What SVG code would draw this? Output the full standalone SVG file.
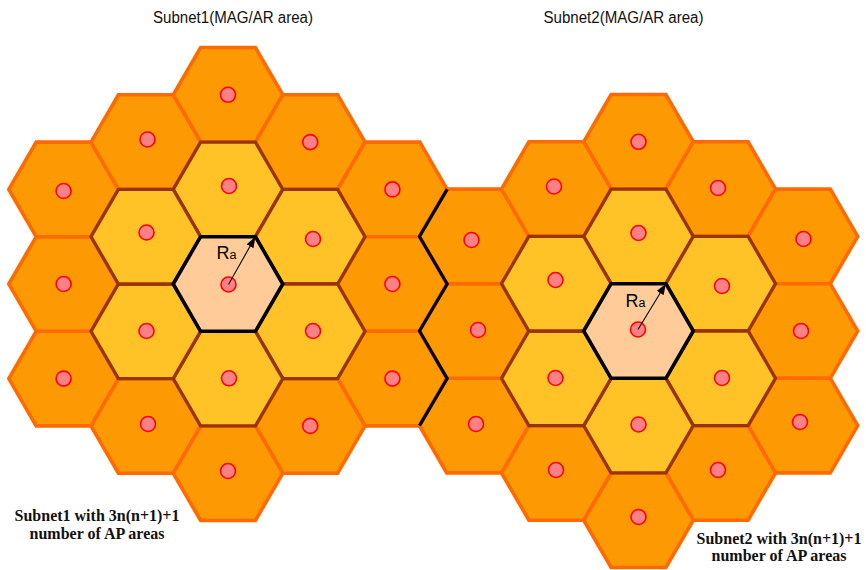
<svg xmlns="http://www.w3.org/2000/svg" xmlns:xlink="http://www.w3.org/1999/xlink" width="866" height="570" viewBox="0 0 866 570">
<style>
.outer{fill:#FD9A03;stroke:#FF6A00;stroke-width:3.6}
.ring1{fill:#FFC328;stroke:#993300;stroke-width:3.3}
.core{fill:#FFCC99;stroke:#000;stroke-width:3.6}
.ap{fill:#FF8085;stroke:#FF0000;stroke-width:1.6}
.title{font-family:"Liberation Sans",Arial,sans-serif;font-size:16px;fill:#111}
.note{font-family:"Liberation Serif","Times New Roman",serif;font-weight:bold;font-size:16px;fill:#111;text-anchor:middle}
.ra{font-family:"Liberation Sans",Arial,sans-serif;font-size:18px;fill:#000}
.radius{stroke:#000;stroke-width:1.1;fill:none}
</style>
<defs>
<path id="hex" d="M-54.8,0 L-27.4,-47.3 L27.4,-47.3 L54.8,0 L27.4,47.3 L-27.4,47.3 Z"/>
<marker id="arr" markerUnits="userSpaceOnUse" markerWidth="11" markerHeight="8" refX="11" refY="4" orient="auto"><path d="M0,0 L11,4 L0,8 Z" fill="#000"/></marker>
</defs>
<rect width="866" height="570" fill="#fff"/>

<!-- Subnet 1 outer ring -->
<g id="s1-o1"><use xlink:href="#hex" x="228" y="94.8" class="outer"/><circle class="ap" cx="228" cy="94.8" r="7.5"/></g>
<g id="s1-o2"><use xlink:href="#hex" x="310.2" y="142.1" class="outer"/><circle class="ap" cx="310.2" cy="142.1" r="7.5"/></g>
<g id="s1-o3"><use xlink:href="#hex" x="392.4" y="189.4" class="outer"/><circle class="ap" cx="392.4" cy="189.4" r="7.5"/></g>
<g id="s1-o4"><use xlink:href="#hex" x="392.4" y="284" class="outer"/><circle class="ap" cx="392.4" cy="284" r="7.5"/></g>
<g id="s1-o5"><use xlink:href="#hex" x="392.4" y="378.6" class="outer"/><circle class="ap" cx="392.4" cy="378.6" r="7.5"/></g>
<g id="s1-o6"><use xlink:href="#hex" x="310.2" y="425.9" class="outer"/><circle class="ap" cx="310.2" cy="425.9" r="7.5"/></g>
<g id="s1-o7"><use xlink:href="#hex" x="228" y="473.2" class="outer"/><circle class="ap" cx="228" cy="471" r="7.5"/></g>
<g id="s1-o8"><use xlink:href="#hex" x="145.8" y="425.9" class="outer"/><circle class="ap" cx="148" cy="424" r="7.5"/></g>
<g id="s1-o9"><use xlink:href="#hex" x="63.6" y="378.6" class="outer"/><circle class="ap" cx="63.6" cy="378.6" r="7.5"/></g>
<g id="s1-o10"><use xlink:href="#hex" x="63.6" y="284" class="outer"/><circle class="ap" cx="63.6" cy="284" r="7.5"/></g>
<g id="s1-o11"><use xlink:href="#hex" x="63.6" y="189.4" class="outer"/><circle class="ap" cx="63.6" cy="191" r="7.5"/></g>
<g id="s1-o12"><use xlink:href="#hex" x="145.8" y="142.1" class="outer"/><circle class="ap" cx="147.5" cy="139.5" r="7.5"/></g>

<!-- Subnet 2 outer ring -->
<g id="s2-o1"><use xlink:href="#hex" x="638.5" y="141.8" class="outer"/><circle class="ap" cx="638.5" cy="141.8" r="7.5"/></g>
<g id="s2-o2"><use xlink:href="#hex" x="720.7" y="189.1" class="outer"/><circle class="ap" cx="718" cy="188" r="7.5"/></g>
<g id="s2-o3"><use xlink:href="#hex" x="802.9" y="236.4" class="outer"/><circle class="ap" cx="803.5" cy="239" r="7.5"/></g>
<g id="s2-o4"><use xlink:href="#hex" x="802.9" y="331" class="outer"/><circle class="ap" cx="801" cy="331" r="7.5"/></g>
<g id="s2-o5"><use xlink:href="#hex" x="802.9" y="425.6" class="outer"/><circle class="ap" cx="800" cy="422" r="7.5"/></g>
<g id="s2-o6"><use xlink:href="#hex" x="720.7" y="472.9" class="outer"/><circle class="ap" cx="718" cy="470" r="7.5"/></g>
<g id="s2-o7"><use xlink:href="#hex" x="638.5" y="520.2" class="outer"/><circle class="ap" cx="638.5" cy="517" r="7.5"/></g>
<g id="s2-o8"><use xlink:href="#hex" x="556.3" y="472.9" class="outer"/><circle class="ap" cx="556" cy="470" r="7.5"/></g>
<g id="s2-o9"><use xlink:href="#hex" x="474.1" y="425.6" class="outer"/><circle class="ap" cx="476" cy="424" r="7.5"/></g>
<g id="s2-o10"><use xlink:href="#hex" x="474.1" y="331" class="outer"/><circle class="ap" cx="478" cy="330" r="7.5"/></g>
<g id="s2-o11"><use xlink:href="#hex" x="474.1" y="236.4" class="outer"/><circle class="ap" cx="471.5" cy="240" r="7.5"/></g>
<g id="s2-o12"><use xlink:href="#hex" x="556.3" y="189.1" class="outer"/><circle class="ap" cx="554" cy="186.5" r="7.5"/></g>

<!-- Subnet 1 first ring -->
<g id="s1-r1"><use xlink:href="#hex" x="228" y="189.4" class="ring1"/><circle class="ap" cx="229" cy="186" r="7.5"/></g>
<g id="s1-r2"><use xlink:href="#hex" x="310.2" y="236.7" class="ring1"/><circle class="ap" cx="313" cy="239" r="7.5"/></g>
<g id="s1-r3"><use xlink:href="#hex" x="310.2" y="331.3" class="ring1"/><circle class="ap" cx="313" cy="331" r="7.5"/></g>
<g id="s1-r4"><use xlink:href="#hex" x="228" y="378.6" class="ring1"/><circle class="ap" cx="229" cy="378.3" r="7.5"/></g>
<g id="s1-r5"><use xlink:href="#hex" x="145.8" y="331.3" class="ring1"/><circle class="ap" cx="146.5" cy="331" r="7.5"/></g>
<g id="s1-r6"><use xlink:href="#hex" x="145.8" y="236.7" class="ring1"/><circle class="ap" cx="146.5" cy="232.5" r="7.5"/></g>

<!-- Subnet 2 first ring -->
<g id="s2-r1"><use xlink:href="#hex" x="638.5" y="236.4" class="ring1"/><circle class="ap" cx="638.5" cy="233" r="7.5"/></g>
<g id="s2-r2"><use xlink:href="#hex" x="720.7" y="283.7" class="ring1"/><circle class="ap" cx="722" cy="286" r="7.5"/></g>
<g id="s2-r3"><use xlink:href="#hex" x="720.7" y="378.3" class="ring1"/><circle class="ap" cx="722" cy="378" r="7.5"/></g>
<g id="s2-r4"><use xlink:href="#hex" x="638.5" y="425.6" class="ring1"/><circle class="ap" cx="638.5" cy="424.5" r="7.5"/></g>
<g id="s2-r5"><use xlink:href="#hex" x="556.3" y="378.3" class="ring1"/><circle class="ap" cx="555.5" cy="378" r="7.5"/></g>
<g id="s2-r6"><use xlink:href="#hex" x="556.3" y="283.7" class="ring1"/><circle class="ap" cx="555.5" cy="280" r="7.5"/></g>

<!-- Centre cells -->
<g id="s1-core"><use xlink:href="#hex" x="228" y="284" class="core"/><circle class="ap" cx="228.5" cy="284.5" r="7.5"/><text class="ra" x="216.5" y="258.5">R<tspan font-size="12.5">a</tspan></text></g>
<g id="s2-core"><use xlink:href="#hex" x="638.5" y="331" class="core"/><circle class="ap" cx="638" cy="329.5" r="7.5"/><text class="ra" x="625.5" y="306.5">R<tspan font-size="12.5">a</tspan></text></g>

<!-- Boundary between the two subnets -->
<g id="subnet-boundary"><polyline points="447.2,189.4 419.5,236.5 447.2,284 419.5,331 447.2,378.6 419.5,425.6" fill="none" stroke="#000" stroke-width="3.2"/></g>

<!-- Radius connectors -->
<g id="connectors">
<line class="radius" x1="228.5" y1="284.5" x2="255.4" y2="236.7" marker-end="url(#arr)"/>
<line class="radius" x1="638" y1="329.5" x2="665.9" y2="283.7" marker-end="url(#arr)"/>
</g>

<!-- Labels -->
<g id="labels">
<text class="title" x="153" y="22.5" textLength="160" lengthAdjust="spacingAndGlyphs">Subnet1(MAG/AR area)</text>
<text class="title" x="543.5" y="22.5" textLength="160" lengthAdjust="spacingAndGlyphs">Subnet2(MAG/AR area)</text>
<text class="note" x="97" y="521">Subnet1 with 3n(n+1)+1</text>
<text class="note" x="97" y="538.5">number of AP areas</text>
<text class="note" x="779" y="544">Subnet2 with 3n(n+1)+1</text>
<text class="note" x="779" y="561">number of AP areas</text>
</g>
</svg>
